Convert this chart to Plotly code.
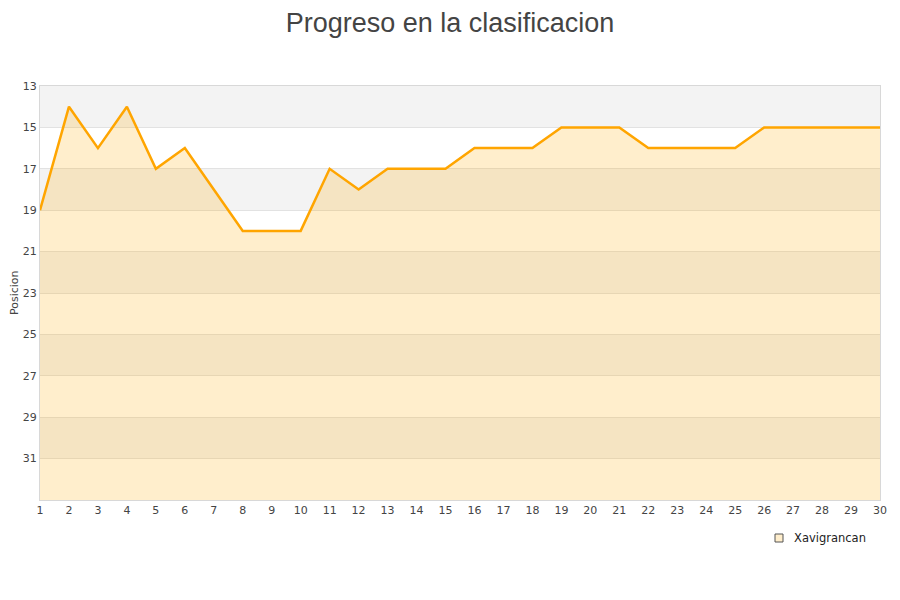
import plotly.graph_objects as go

jornadas = list(range(1, 31))
posiciones = [19, 14, 16, 14, 17, 16, 18, 20, 20, 20, 17, 18, 17, 17, 17,
              16, 16, 16, 15, 15, 15, 16, 16, 16, 16, 15, 15, 15, 15, 15]
y_ticks = [13, 15, 17, 19, 21, 23, 25, 27, 29, 31]
band_starts = [13, 17, 21, 25, 29]
equipo = "Xavigrancan"

# the page body adds an 8px offset; figure coords below compensate for it
W, H = 892, 592
L, R, T, B = 32, 20, 78, 100
PW, PH = W - L - R, H - T - B


def px_x(x):
    return (x - 8 - L) / PW


def px_y(y):
    return (H - B - (y - 8)) / PH


fig = go.Figure()
fig.add_trace(go.Scatter(
    x=jornadas, y=[33] * len(jornadas), mode="lines",
    line=dict(width=0), showlegend=False, hoverinfo="skip"))
fig.add_trace(go.Scatter(
    x=jornadas, y=posiciones, mode="lines", fill="tonexty",
    fillcolor="rgba(255,170,0,0.2)",
    line=dict(color="#FFA500", width=2.5), showlegend=False, name=equipo))

for b in band_starts:
    fig.add_shape(type="rect", xref="paper", yref="y", x0=0, x1=1,
                  y0=b, y1=b + 2, fillcolor="#F3F3F3", line=dict(width=0),
                  layer="below")

# legend (square + label) below the plot, right side
fig.add_shape(type="rect", xref="paper", yref="paper",
              x0=px_x(775), x1=px_x(783), y0=px_y(542), y1=px_y(534),
              fillcolor="#FFEECC", line=dict(color="#555555", width=1))
fig.add_annotation(text=equipo, xref="paper", yref="paper",
                   x=px_x(792), y=px_y(538),
                   xanchor="left", yanchor="middle", showarrow=False,
                   font=dict(family="DejaVu Sans", size=11.5, color="#222222"))
# y-axis title
fig.add_annotation(text="Posicion", xref="paper", yref="paper",
                   x=px_x(14), y=px_y(293), textangle=-90,
                   xanchor="center", yanchor="middle", showarrow=False,
                   font=dict(family="DejaVu Sans", size=11, color="#444444"))

fig.update_layout(
    width=W, height=H,
    margin=dict(l=L, r=R, t=T, b=B),
    paper_bgcolor="white", plot_bgcolor="white",
    title=dict(text="Progreso en la clasificacion",
               x=(450 - 8) / W, xanchor="center",
               y=1 - 15 / H, yanchor="middle",
               font=dict(family="Liberation Sans", size=27, color="#444444")),
    font=dict(family="DejaVu Sans", size=11, color="#444444"),
    showlegend=False,
    xaxis=dict(range=[1, 30], tickmode="array", tickvals=jornadas,
               showgrid=False, zeroline=False, showline=True,
               linecolor="#D8D8D8", linewidth=1, mirror=True,
               ticks="", automargin=False,
               tickfont=dict(size=11, color="#444444")),
    yaxis=dict(range=[33, 13], tickmode="array", tickvals=y_ticks,
               showgrid=True, gridcolor="#E2E2E2", gridwidth=1,
               zeroline=False, showline=True, linecolor="#D8D8D8",
               linewidth=1, mirror=True, ticks="", automargin=False,
               tickfont=dict(size=11, color="#444444")),
)

fig.write_html("out.html")
